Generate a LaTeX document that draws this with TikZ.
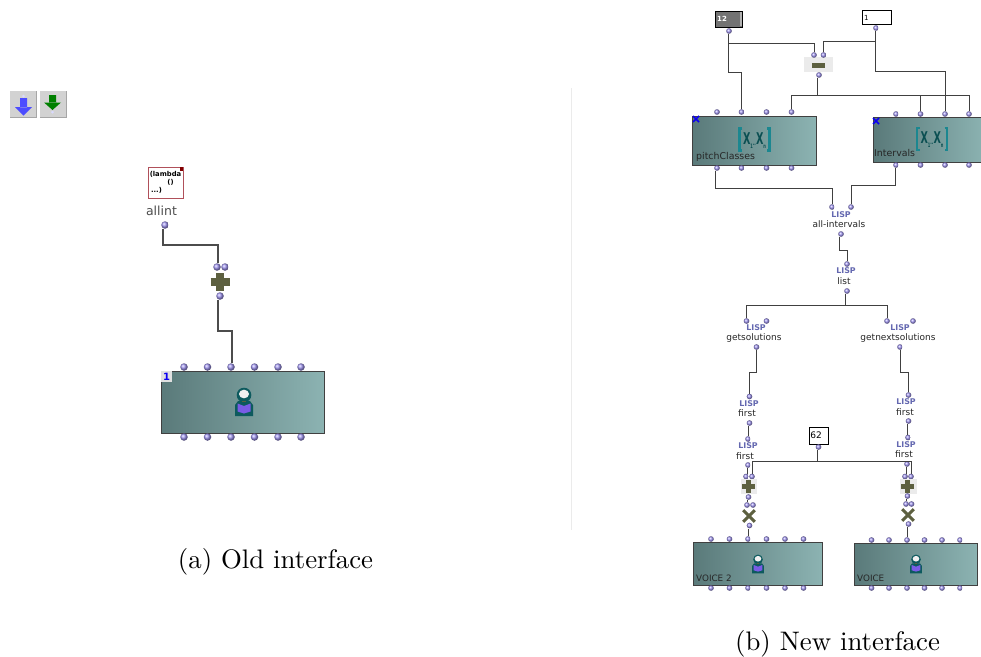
\documentclass[tikz,border=0pt]{standalone}
\usepackage{fontspec}
\newfontfamily\labf{DejaVu Sans}
\definecolor{olivex}{HTML}{5D6040}
\definecolor{tealx}{HTML}{0F6A6E}
\definecolor{tealb}{HTML}{1B8790}
\definecolor{tealdk}{HTML}{0B4F52}
\definecolor{lispc}{HTML}{6468B0}
\definecolor{boxl}{HTML}{5A7A7A}
\definecolor{boxr}{HTML}{8CB3B2}
\definecolor{ballc}{HTML}{9F94F0}
\definecolor{btnface}{HTML}{D2D2D2}
\definecolor{btnedge}{HTML}{A6A6A6}
\definecolor{bookc}{HTML}{7A5CE6}
\definecolor{lamred}{HTML}{B0505A}
\tikzset{
  pball/.style={circle,inner sep=0pt,minimum size=5.6pt,shading=ball,ball color=ballc},
  bigball/.style={pball,minimum size=7.5pt},
  wire/.style={draw=black!75,line width=0.9pt},
  widewire/.style={draw=black!70,line width=1.2pt},
  obox/.style={draw=black!75,line width=1pt,left color=boxl,right color=boxr,inner sep=0pt},
  lisp/.style={inner sep=0pt,font=\labf\bfseries\fontsize{7.9}{9}\selectfont,text=lispc},
  lbl/.style={inner sep=0pt,font=\labf\fontsize{9}{10}\selectfont,text=black!85},
  boxlbl/.style={inner sep=0pt,anchor=west,font=\labf\fontsize{9.4}{10}\selectfont,text=black!85},
  captxt/.style={inner sep=0pt,scale=2.68},
  val/.style={draw=black,line width=0.9pt,fill=white,inner sep=0pt},
  xnode/.style={inner sep=0pt,xscale=.8,yscale=1.35,text=tealdk,font=\labf\bfseries\fontsize{12}{13}\selectfont},
  person/.pic={
    \fill[tealx!85!black] (-9,14) -- (-9,3) -- (-6,-1) -- (6,-1) -- (9,3) -- (9,14) -- cycle;
    \fill[tealx!85!black] (0,-7) circle (7.3);
    \fill[white!88!gray] (0,-8) ellipse (5 and 4.3);
    \fill[bookc] (-6.5,1.5) -- (0,4) -- (6.5,1.5) -- (6.5,9.5) -- (0,11.5) -- (-6.5,9.5) -- cycle;
    \draw[olivex,line width=1pt] (-2,-1) -- (2,-1);
  },
  brk/.pic={
    \draw[tealb,line width=2.3pt] (-12.5,-11) -- (-15,-11) -- (-15,11) -- (-12.5,11);
    \draw[tealb,line width=2.3pt] (12.5,-11) -- (15,-11) -- (15,11) -- (12.5,11);
  },
  xtag/.pic={
    \draw[blue!90!violet,line width=1.5pt] (-3,-3) -- (3,3) (-3,3) -- (3,-3);
  },
  plusmark/.pic={
    \draw[olivex,line width=5pt] (-6.5,0) -- (6.5,0) (0,-6.5) -- (0,6.5);
  },
  bigplus/.pic={
    \draw[olivex,line width=7.5pt] (-9.5,0) -- (9.5,0) (0,-9) -- (0,9);
  },
  timesmark/.pic={
    \draw[olivex,line width=3pt] (-5.8,-5.8) -- (5.8,5.8) (-5.8,5.8) -- (5.8,-5.8);
  }
}
\newcommand{\xlist}{X\raisebox{-3pt}{\fontsize{4.5}{5}\selectfont 1}\raisebox{-0.5pt}{\fontsize{5}{5}\selectfont ..}X\raisebox{-3pt}{\fontsize{4.5}{5}\selectfont n}}
\begin{document}
\begin{tikzpicture}[x=1pt,y=-1pt]
\useasboundingbox (0,0) rectangle (981,656);
% separator
\draw[black!8,line width=0.7pt] (571,88) -- (571,530);

% ---------- toolbar
\fill[btnedge] (10,91) rectangle (37,118);
\fill[btnface] (10,91) rectangle (35.5,116.5);
\fill[btnedge] (40,91) rectangle (67,118);
\fill[btnface] (40,91) rectangle (65.5,116.5);
\fill[blue!70!white] (20,98) rectangle (27,107.5) (15,107) -- (32,107) -- (23.5,115.5) -- cycle;
\fill[blue!15!white] (23.5,96) circle (1.5);
\fill[green!50!black] (49,95) rectangle (56,103) (44,102.5) -- (61,102.5) -- (52.5,110) -- cycle;
\fill[blue!15!white] (52.5,112) circle (1.5);

% ---------- old interface
\node[draw=lamred,line width=1pt,fill=white,minimum width=35pt,minimum height=31pt,inner sep=0pt,
  align=center,font=\labf\bfseries\fontsize{6.8}{8}\selectfont] (lam) at (165.5,182.5) {(lambda\\\hspace*{10pt}()\\...)\hspace*{18pt}};
\fill[red!50!black] (179.5,167) rectangle (183,170.5);
\node[lbl,font=\labf\fontsize{12.5}{14}\selectfont,text=black!70] (allint) at (161.5,211) {allint};
\node[bigball] (ap) at (165,225) {};
\node[bigball] (pa) at (217,267) {};
\node[bigball] (pb) at (225,267) {};
\pic at (220,282) {bigplus};
\node[bigball] (po) at (220,296) {};
\node[obox,minimum width=163pt,minimum height=62pt] (oldbox) at (242.5,402) {};
\fill[black!12] (161,371) rectangle (172,382);
\node[inner sep=0pt,text=blue!90!violet,font=\labf\bfseries\fontsize{10}{10}\selectfont] (oldn) at (166.5,377) {1};
\pic at (244,402) {person};
\foreach \n/\x in {1/184,2/207.5,3/231,4/254.5,5/278,6/301}{
  \node[bigball] (ot\n) at (\x,367) {};
  \node[bigball] (ob\n) at (\x,437) {};
}
\draw[widewire] ([xshift=-2]ap.south) -- ++(0,16) -| ([xshift=1]pa.north);
\draw[widewire] ([xshift=-2]po.south) -- ++(0,31) -| ([xshift=1]ot3.north);

% ---------- new interface: inputs
\node[draw=black,line width=0.9pt,fill=black!55,minimum width=27pt,minimum height=16pt,inner sep=0pt] (n12) at (728.5,19) {};
\fill[black!30] (740,12) rectangle (741.5,26);
\node[inner sep=0pt,text=white,anchor=west,font=\labf\bfseries\fontsize{7}{8}\selectfont] (n12t) at (717,19) {12};
\node[val,minimum width=29pt,minimum height=14pt] (n1) at (876.5,17) {};
\node[inner sep=0pt,anchor=west,font=\labf\fontsize{7}{8}\selectfont] (n1t) at (864,18) {1};
\node[pball] (p12) at (729,31) {};
\node[pball] (p1) at (876,28) {};

% minus
\node[fill=black!8,minimum width=29pt,minimum height=15pt,inner sep=0pt] (minusbg) at (818.5,64.5) {};
\node[fill=olivex,minimum width=13pt,minimum height=5.5pt,inner sep=0pt] (minus) at (818.5,65.5) {};
\node[pball] (ma) at (814,55) {};
\node[pball] (mb) at (823.5,55) {};
\node[pball] (mo) at (819,75) {};

% abstraction boxes
\node[obox,minimum width=124pt,minimum height=49pt] (pcbox) at (754,140.5) {};
\node[obox,minimum width=112pt,minimum height=45pt,anchor=west] (ivbox) at (873,139.5) {};
\pic at (696,119) {xtag};
\pic at (876,121) {xtag};
\pic at (754.5,139.5) {brk};
\pic at (932,139) {brk};
\node[xnode] (pcic) at (754.5,140.5) {\xlist};
\node[xnode] (ivic) at (932,140) {\xlist};
\node[boxlbl] (pcl) at (696,157) {pitchClasses};
\node[boxlbl] (ivl) at (874,153) {Intervals};
\foreach \n/\x in {1/717,2/741.5,3/766.5,4/791.5}{
  \node[pball] (pt\n) at (\x,112) {};
  \node[pball] (pb\n) at (\x,168) {};
}
\foreach \n/\x in {1/896,2/920.5,3/945,4/969}{
  \node[pball] (it\n) at (\x,114) {};
  \node[pball] (ib\n) at (\x,165) {};
}

% lisp chain
\node[pball] (aa) at (832,207) {};
\node[pball] (ab) at (851,207) {};
\node[lisp] (aL) at (841,215) {LISP};
\node[lbl] (aN) at (839,224.5) {all-intervals};
\node[pball] (ao) at (841,234) {};
\node[pball] (li) at (847,264) {};
\node[lisp] (lL) at (846,271) {LISP};
\node[lbl] (lN) at (844,281) {list};
\node[pball] (lo) at (847,291) {};
\node[pball] (ga) at (746.5,321) {};
\node[pball] (gb) at (766.5,321) {};
\node[lisp] (gL) at (756,328) {LISP};
\node[lbl] (gN) at (754,338) {getsolutions};
\node[pball] (go) at (756.5,347) {};
\node[pball] (ha) at (887,321) {};
\node[pball] (hb) at (913,321) {};
\node[lisp] (hL) at (900,328) {LISP};
\node[lbl] (hN) at (898,338) {getnextsolutions};
\node[pball] (ho) at (900,347) {};

% left chain
\node[pball] (f1i) at (749.5,396.5) {};
\node[lisp] (f1L) at (749,404) {LISP};
\node[lbl] (f1N) at (747,413.5) {first};
\node[pball] (f1o) at (749.5,423) {};
\node[pball] (f2i) at (748,439) {};
\node[lisp] (f2L) at (748,446) {LISP};
\node[lbl] (f2N) at (745,456) {first};
\node[pball] (f2o) at (748,465) {};
\node[pball] (pla) at (746,476.5) {};
\node[pball] (plb) at (752,476.5) {};
\fill[black!8] (741,479) rectangle (757,494);
\pic at (748.5,486.5) {plusmark};
\node[pball] (plo) at (748.5,497) {};
\node[pball] (xa) at (747,505) {};
\node[pball] (xb) at (753,505) {};
\pic at (749,516) {timesmark};
\node[pball] (xo) at (749.5,525.5) {};

% right chain
\node[pball] (r1i) at (908.5,395) {};
\node[lisp] (r1L) at (906,402) {LISP};
\node[lbl] (r1N) at (905,412) {first};
\node[pball] (r1o) at (908.5,421) {};
\node[pball] (r2i) at (908,437.5) {};
\node[lisp] (r2L) at (906,444.5) {LISP};
\node[lbl] (r2N) at (904,454.5) {first};
\node[pball] (r2o) at (907,464) {};
\node[pball] (rpa) at (905,476.5) {};
\node[pball] (rpb) at (911,476.5) {};
\fill[black!8] (900,479) rectangle (917,494);
\pic at (907.5,486.5) {plusmark};
\node[pball] (rpo) at (907.5,496) {};
\node[pball] (rxa) at (906,504) {};
\node[pball] (rxb) at (911.5,504) {};
\pic at (908,515) {timesmark};
\node[pball] (rxo) at (908.5,524) {};

% 62
\node[val,minimum width=19pt,minimum height=17pt] (n62) at (818.5,435.5) {};
\node[inner sep=0pt,font=\labf\fontsize{9}{10}\selectfont] (n62t) at (816,435.5) {62};
\node[pball] (p62) at (818.5,447) {};

% voice boxes
\node[obox,minimum width=129pt,minimum height=43pt] (v2box) at (757.5,563.5) {};
\node[obox,minimum width=123pt,minimum height=42pt] (v1box) at (915.5,564) {};
\pic[scale=0.66] at (758,564) {person};
\pic[scale=0.66] at (916,564) {person};
\node[boxlbl,font=\labf\fontsize{8.8}{10}\selectfont] (v2l) at (696,578) {VOICE 2};
\node[boxlbl,font=\labf\fontsize{8.8}{10}\selectfont] (v1l) at (857,578) {VOICE};
\foreach \n/\x in {1/711,2/729.5,3/748,4/766.5,5/785,6/803.5}{
  \node[pball] (vt\n) at (\x,539) {};
  \node[pball] (vb\n) at (\x,588) {};
}
\foreach \n/\x in {1/871.5,2/889,3/907,4/924.5,5/942,6/960}{
  \node[pball] (wt\n) at (\x,540) {};
  \node[pball] (wb\n) at (\x,588) {};
}

% ---------- wires
\draw[wire] ([xshift=-1]p12.south) -- ++(0,38) -| (pt2.north);
\draw[wire] ([xshift=-1]p12.south) -- ++(0,9) -| (ma.north);
\draw[wire] ([xshift=-1]p1.south) -- ++(0,40) -| (it3.north);
\draw[wire] ([xshift=-1]p1.south) -- ++(0,10.5) -| (mb.north);
\draw[wire] ([xshift=-1.5]mo.south) -- ++(0,17) -| (pt4.north);
\draw[wire] ([xshift=-1.5]mo.south) -- ++(0,17) -| (it2.north);
\draw[wire] ([xshift=-1.5]mo.south) -- ++(0,17) -| (it4.north);
\draw[wire] ([xshift=-1.5]pb1.south) -- ++(0,17) -| (aa.north);
\draw[wire] ([xshift=-1]ib1.south) -- ++(0,17.5) -| (ab.north);
\draw[wire] ([xshift=-1.5]ao.south) -- ++(0,13) -| (li.north);
\draw[wire] ([xshift=-1.5]lo.south) -- ++(0,11.5) -| (ga.north);
\draw[wire] ([xshift=-1.5]lo.south) -- ++(0,11.5) -| (ha.north);
\draw[wire] (go.south) -- ++(0,22) -| (f1i.north);
\draw[wire] (ho.south) -- ++(0,22) -| (r1i.north);
\draw[wire] ([xshift=-1]f1o.south) -- ([xshift=-1]f1o.south |- f2i.north);
\draw[wire] ([xshift=-1]r1o.south) -- ([xshift=-1]r1o.south |- r2i.north);
\draw[wire] ([xshift=-1]f2o.south) -- ([xshift=-1]f2o.south |- pla.north);
\draw[wire] ([xshift=-1]r2o.south) -- ([xshift=-1]r2o.south |- rpa.north);
\draw[wire] ([xshift=-1.5]p62.south) -- ++(0,11.5) -| (plb.north);
\draw[wire] ([xshift=-1.5]p62.south) -- ++(0,11.5) -| (rpb.north);
\draw[wire] ([xshift=-1]plo.south) -- ([xshift=-1]plo.south |- xa.north);
\draw[wire] ([xshift=-1]rpo.south) -- ([xshift=-1]rpo.south |- rxa.north);
\draw[wire] ([xshift=-1]xo.south) -- ([xshift=-1]xo.south |- vt3.north);
\draw[wire] ([xshift=-1]rxo.south) -- ([xshift=-1]rxo.south |- wt3.north);

% ---------- captions
\node[captxt] (capa) at (275.5,562) {(a) Old interface};
\node[captxt] (capb) at (837.5,644) {(b) New interface};
\end{tikzpicture}
\end{document}
